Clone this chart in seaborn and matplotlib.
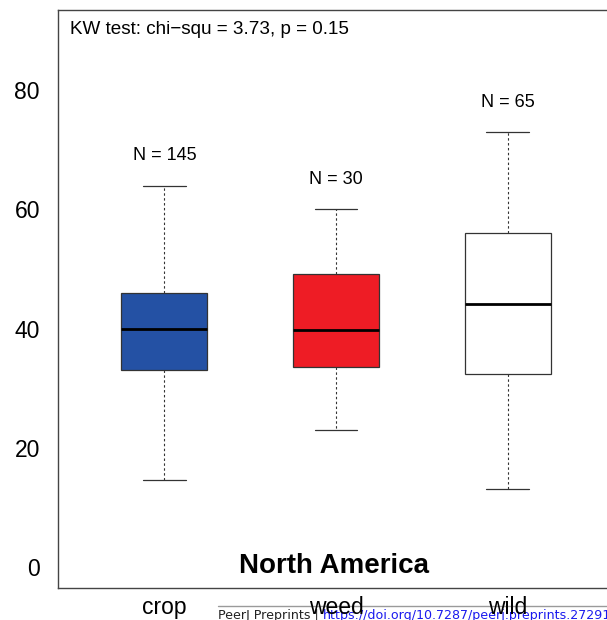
import numpy as np
import pandas as pd
import matplotlib
matplotlib.use("Agg")
import matplotlib.pyplot as plt
from matplotlib.lines import Line2D
import seaborn as sns

# Five-number summaries (min, Q1, median, Q3, max) per host type
categories = ["crop", "weed", "wild"]
crop_vals = [14.6, 33.0, 40.0, 46.0, 64.0]
weed_vals = [23.0, 33.5, 39.8, 49.2, 60.0]
wild_vals = [13.0, 32.4, 44.1, 56.1, 73.0]
sample_sizes = [145, 30, 65]
box_colors = ["#2451A4", "#EE1C25", "#FFFFFF"]
y_ticks = [0, 20, 40, 60, 80]
kw_label = "KW test: chi\u2212squ = 3.73, p = 0.15"
region = "North America"
footer_left = "PeerJ Preprints | "
footer_link = "https://doi.org/10.7287/peerj.preprints.27291v1"

sns.set_style("white")
plt.rcParams["font.family"] = ["Liberation Sans", "DejaVu Sans"]

df = pd.DataFrame({
    "group": np.repeat(categories, 5),
    "value": crop_vals + weed_vals + wild_vals,
})

fig = plt.figure(figsize=(6.07, 6.20), dpi=100)
ax = fig.add_axes([58 / 607, 32 / 620, 556 / 607, 578.5 / 620])

sns.boxplot(
    data=df, x="group", y="value", hue="group", order=categories,
    hue_order=categories, palette=box_colors, legend=False,
    whis=np.inf, width=0.5, linewidth=0.9, linecolor="#333333",
    saturation=1, ax=ax,
    medianprops=dict(color="black", linewidth=2.0),
    whiskerprops=dict(color="#333333", linestyle=(0, (2.2, 2.2)), linewidth=0.8),
    capprops=dict(color="#333333", linewidth=0.9),
    boxprops=dict(edgecolor="#333333", linewidth=0.9),
)

# sample sizes above the upper whiskers
for i, (vals, n) in enumerate(zip([crop_vals, weed_vals, wild_vals], sample_sizes)):
    ax.text(i, max(vals) + 5, f"N = {n}", ha="center", va="center",
            fontsize=13, color="black")

ax.text(0.022, 0.965, kw_label, transform=ax.transAxes, ha="left", va="center",
        fontsize=13.6, color="black")
ax.text(0.497, 0.038, region, transform=ax.transAxes, ha="center", va="center",
        fontsize=20, fontweight="bold", color="black")

ax.set_xlim(-0.62, 2.62)
ax.set_ylim(-3.6, 93.6)
ax.set_yticks(y_ticks)
ax.set_xlabel("")
ax.set_ylabel("")
ax.tick_params(axis="both", which="major", direction="out", length=5,
               width=0.9, color="#444444", labelsize=16.5, labelcolor="black")
ax.tick_params(axis="y", pad=8)
ax.tick_params(axis="x", pad=0.5)
for s in ax.spines.values():
    s.set_visible(True)
    s.set_color("#444444")
    s.set_linewidth(1.0)

# footer line and citation text
fig.add_artist(Line2D([218 / 607, 1.0], [1 - 606 / 620, 1 - 606 / 620],
                      color="#9a9a9a", linewidth=1.0, zorder=0))
t1 = fig.text(218 / 607, 0.5 / 620, footer_left, ha="left", va="baseline",
              fontsize=9.1, family="DejaVu Sans", color="#222222", zorder=0)
ax.annotate(footer_link, xy=(1, 0), xycoords=t1, ha="left", va="bottom",
            fontsize=9.1, family="DejaVu Sans", color="#1a1aee",
            annotation_clip=False, zorder=0)
ax.set_zorder(1)
ax.patch.set_alpha(0)

fig.savefig("out.png", dpi=100)
